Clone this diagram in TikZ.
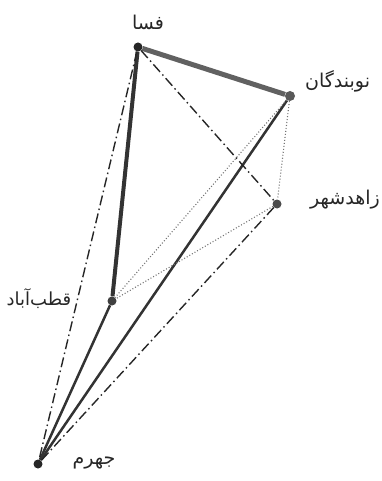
\documentclass[tikz,border=0pt]{standalone}
\usepackage{fontspec}
\newfontfamily\arabicfont[Script=Arabic]{DejaVu Sans}
\TeXXeTstate=1
\usetikzlibrary{positioning}
\colorlet{roadgray}{black!62}
\colorlet{roaddark}{black!80}
\colorlet{dotgray}{black!55}

\begin{document}
\begin{tikzpicture}[x=1pt, y=-1pt,
    town/.style={circle, fill=#1, inner sep=0pt, minimum size=9pt},
    town/.default=black!85,
    townname/.style={font=\arabicfont\fontsize{19}{22}\selectfont, inner sep=0pt, text=black!85},
    dashdot/.style={black!85, line width=1.4pt, dash pattern=on 10pt off 3.5pt on 1.5pt off 3.5pt},
    dotline/.style={dotgray, line width=1.1pt, dash pattern=on 1pt off 2pt}]
    \useasboundingbox (0,0) rectangle (382,481);
    % towns
    \node[town] (fasa) at (138,47) {};
    \node[town=black!65, minimum size=10pt] (noband) at (290,96) {};
    \node[town=black!70] (zahed) at (277,204) {};
    \node[town=black!75] (qotb) at (112,301) {};
    \node[town] (jahrom) at (38,464) {};
    % names
    \node[townname] (fasaL) at (148,22) {\beginR فسا\endR};
    \node[townname, anchor=west] (nobandL) at (305,81) {\beginR نوبندگان\endR};
    \node[townname, anchor=west] (zahedL) at (310,200) {\beginR زاهدشهر\endR};
    \node[townname, font=\arabicfont\fontsize{18}{21}\selectfont] (qotbL) at (39,299) {\beginR قطب‌آباد\endR};
    \node[townname] (jahromL) at (94,463) {\beginR جهرم\endR};
    % roads
    \draw[roadgray, line width=5pt] (fasa) -- (noband);
    \draw[roaddark, line width=4pt] (fasa) -- (qotb);
    \draw[roaddark, line width=2.5pt] (noband) -- (jahrom);
    \draw[roaddark, line width=2.5pt] (qotb) -- (jahrom);
    \draw[dashdot] (fasa) -- (zahed);
    \draw[dashdot] (fasa) -- (jahrom);
    \draw[dashdot] (zahed) -- (jahrom);
    \draw[dotline] (noband) -- (zahed);
    \draw[dotline] (noband) -- (qotb);
    \draw[dotline] (zahed) -- (qotb);
\end{tikzpicture}
\end{document}
